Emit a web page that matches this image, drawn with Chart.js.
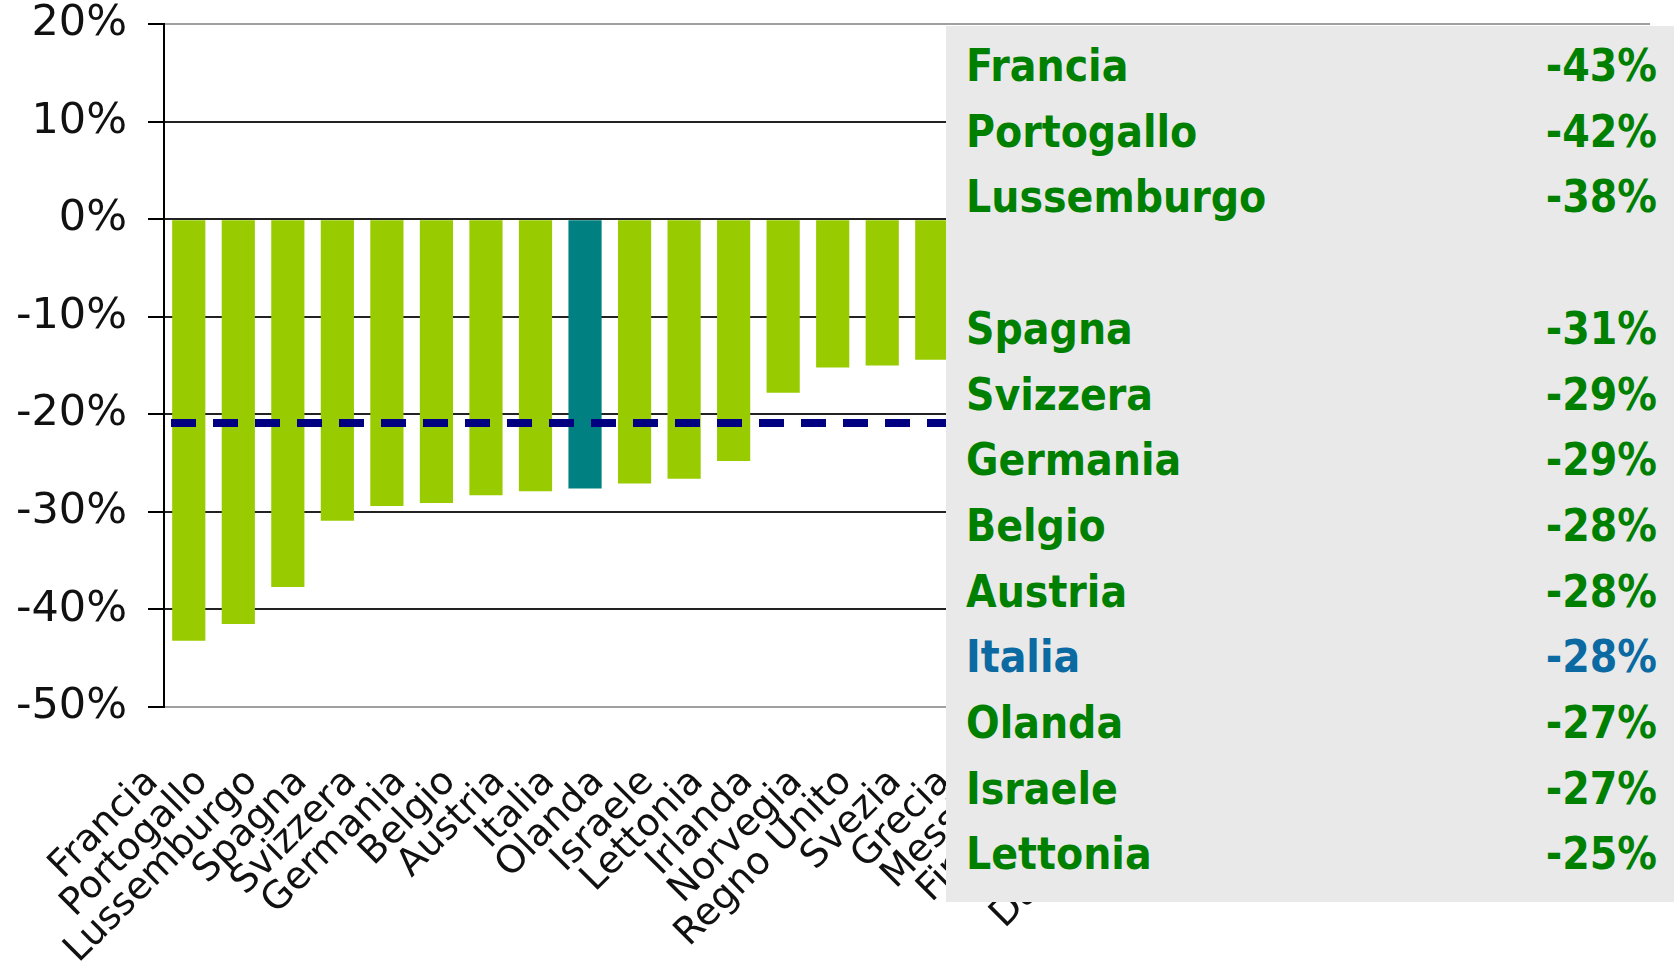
<!DOCTYPE html>
<html>
<head>
<meta charset="utf-8">
<script src="https://cdn.jsdelivr.net/npm/chart.js@4"></script>
<style>
  body { margin: 0; background: #fff; }
  #wrap { position: relative; width: 1674px; height: 976px; }
  #box {
    position: absolute; left: 946px; top: 26px; width: 728px; height: 876px;
    background: #e9e9e9; font-family: "DejaVu Sans Condensed", "DejaVu Sans", sans-serif;
    font-weight: bold; font-size: 44px; color: #008000;
  }
  .row { position: absolute; left: 20px; right: 17px; height: 66px; line-height: 66px; }
  .row .v { position: absolute; right: 0; top: 0; }
</style>
</head>
<body>
<div id="wrap">
  <canvas id="chart" width="1674" height="976"></canvas>
  <div id="box"></div>
</div>
<script>
// paesi (le barre a destra sono coperte dal riquadro, valori stimati)
var paesi = ['Francia', 'Portogallo', 'Lussemburgo', 'Spagna', 'Svizzera', 'Germania', 'Belgio',
  'Austria', 'Italia', 'Olanda', 'Israele', 'Lettonia', 'Irlanda', 'Norvegia', 'Regno Unito',
  'Svezia', 'Grecia', 'Messico', 'Finlandia', 'Estonia', 'Danimarca', 'USA', 'Corea', 'Cina',
  'Cile', 'Slovenia', 'India', 'Cipro', 'Malta', 'Russia'];
var variazione = [-43.2, -41.5, -37.7, -30.9, -29.4, -29.1, -28.3, -27.9, -27.6, -27.1, -26.6,
  -24.8, -17.8, -15.2, -15.0, -14.4, -14.0, -13.0, -12.0, -11.0, -10.0, -9.0, -8.0, -7.0,
  -6.0, -5.0, -4.0, -3.0, -2.0, 2.0];
var media = [-20.9];
var yTicks = [20, 10, 0, -10, -20, -30, -40, -50];

// riquadro a destra
var boxNomi = ['Francia', 'Portogallo', 'Lussemburgo', '', 'Spagna', 'Svizzera', 'Germania',
  'Belgio', 'Austria', 'Italia', 'Olanda', 'Israele', 'Lettonia'];
var boxValori = ['-43%', '-42%', '-38%', '', '-31%', '-29%', '-29%', '-28%', '-28%', '-28%',
  '-27%', '-27%', '-25%'];

var box = document.getElementById('box');
boxNomi.forEach(function (n, i) {
    var r = document.createElement('div');
    r.className = 'row';
    r.style.top = (7 + i * 65.7) + 'px';
    if (n === 'Italia') r.style.color = '#0a6aa1';
    r.innerHTML = '<span></span><span class="v"></span>';
    r.children[0].textContent = n;
    r.children[1].textContent = boxValori[i];
    box.appendChild(r);
});

var lineaMedia = {
    id: 'lineaMedia',
    afterDatasetsDraw: function (chart) {
        var ctx = chart.ctx, area = chart.chartArea;
        var y = chart.scales.y.getPixelForValue(media[0]);
        ctx.save();
        ctx.strokeStyle = '#000080';
        ctx.lineWidth = 8;
        ctx.setLineDash([25, 17]);
        ctx.beginPath();
        ctx.moveTo(area.left + 7, y);
        ctx.lineTo(area.right, y);
        ctx.stroke();
        ctx.restore();
    }
};

Chart.defaults.font.family = '"DejaVu Sans", Verdana, sans-serif';
Chart.defaults.color = '#111';

new Chart(document.getElementById('chart').getContext('2d'), {
    type: 'bar',
    data: {
        labels: paesi,
        datasets: [{
            data: variazione,
            backgroundColor: paesi.map(function (p) { return p === 'Italia' ? '#008080' : '#99cc00'; }),
            borderWidth: 0,
            categoryPercentage: 1.0,
            barPercentage: 0.67
        }]
    },
    options: {
        responsive: false,
        animation: false,
        layout: { padding: { top: 24, right: 24, left: 0, bottom: 0 } },
        plugins: { legend: { display: false }, tooltip: { enabled: false } },
        scales: {
            x: {
                grid: { display: false },
                border: { display: false },
                ticks: {
                    autoSkip: false, minRotation: 45, maxRotation: 45,
                    font: { size: 38 }, color: '#111', padding: 45, labelOffset: -36
                },
                afterFit: function (s) { s.height = 269; s.paddingLeft = 0; s.paddingRight = 0; }
            },
            y: {
                min: -50, max: 20,
                afterBuildTicks: function (s) { s.ticks = yTicks.map(function (v) { return { value: v }; }); },
                grid: {
                    color: function (c) {
                        return (c.tick && (c.tick.value === 20 || c.tick.value === -50)) ? '#a0a0a0' : '#222';
                    },
                    lineWidth: 2, tickLength: 16, tickColor: '#000'
                },
                border: { display: true, color: '#000', width: 2 },
                ticks: {
                    font: { size: 43 }, color: '#111', padding: 21,
                    callback: function (v) { return v + '%'; }
                },
                afterFit: function (s) { s.width = 164; s.paddingTop = 0; s.paddingBottom = 0; }
            }
        }
    },
    plugins: [lineaMedia]
});
</script>
</body>
</html>
